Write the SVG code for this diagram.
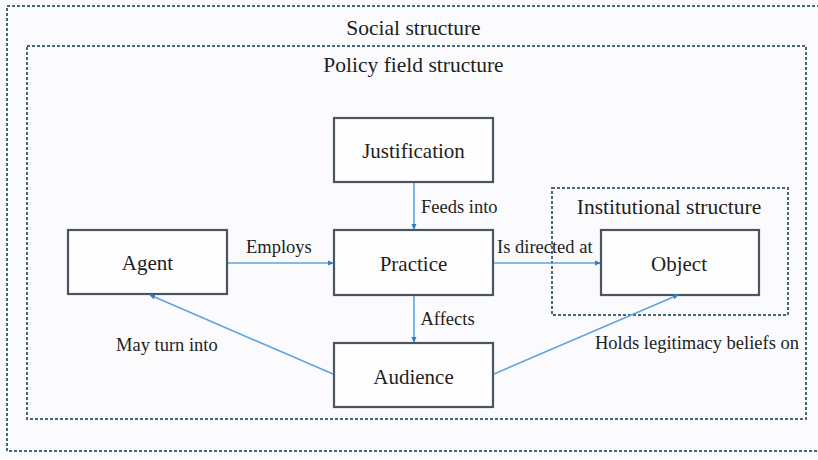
<svg xmlns="http://www.w3.org/2000/svg" width="818" height="460" viewBox="0 0 818 460">
  <defs>
    <marker id="arrow" markerWidth="6" markerHeight="6" refX="5" refY="3" orient="auto" markerUnits="userSpaceOnUse">
      <path d="M0,0.5 L6,3 L0,5.5 Z" fill="#2f7fc8"/>
    </marker>
    <style>
      .frame { fill: none; stroke: #46687a; stroke-width: 2; stroke-dasharray: 3 2; }
      .box rect { fill: #fefefe; stroke: #4b555d; stroke-width: 2.2; }
      text { fill: #1e1e1e; font-family: "Liberation Serif", "Times New Roman", serif; }
      .box text { font-size: 21px; text-anchor: middle; }
      .lbl { font-size: 18.5px; }
      .title { font-size: 21.5px; text-anchor: middle; }
      .edge { stroke: #5fa3dd; stroke-width: 1.6; fill: none; marker-end: url(#arrow); }
    </style>
  </defs>

  <rect x="0" y="0" width="818" height="460" fill="#fbfbfd"/>

  <!-- nested structure frames -->
  <g id="social-structure">
    <rect class="frame" x="7" y="6" width="830" height="445"/>
    <text class="title" x="413.5" y="35">Social structure</text>
  </g>
  <g id="policy-field-structure">
    <rect class="frame" x="27" y="46" width="779" height="373"/>
    <text class="title" x="413.5" y="72">Policy field structure</text>
  </g>
  <g id="institutional-structure">
    <rect class="frame" x="552" y="188" width="236" height="127"/>
    <text class="title" x="669" y="214">Institutional structure</text>
  </g>

  <!-- nodes -->
  <g id="justification" class="box">
    <rect x="334" y="118" width="159" height="64"/>
    <text x="413.5" y="158">Justification</text>
  </g>
  <g id="agent" class="box">
    <rect x="68" y="230" width="159" height="64"/>
    <text x="147.5" y="270">Agent</text>
  </g>
  <g id="practice" class="box">
    <rect x="334" y="230" width="159" height="65"/>
    <text x="413.5" y="271">Practice</text>
  </g>
  <g id="object" class="box">
    <rect x="601" y="230" width="158" height="65"/>
    <text x="679" y="271">Object</text>
  </g>
  <g id="audience" class="box">
    <rect x="334" y="343" width="159" height="64"/>
    <text x="413.5" y="384">Audience</text>
  </g>

  <!-- connectors -->
  <g id="connectors">
    <line class="edge" x1="414" y1="183" x2="414" y2="229"/>
    <line class="edge" x1="228" y1="263" x2="333" y2="263"/>
    <line class="edge" x1="494" y1="263" x2="600" y2="263"/>
    <line class="edge" x1="414" y1="296" x2="414" y2="342"/>
    <line class="edge" x1="333" y1="374" x2="150" y2="295"/>
    <line class="edge" x1="494" y1="374" x2="678" y2="295"/>
    <text class="lbl" x="421" y="213">Feeds into</text>
    <text class="lbl" x="246" y="253">Employs</text>
    <text class="lbl" x="497" y="253">Is directed at</text>
    <text class="lbl" x="420.5" y="325">Affects</text>
    <text class="lbl" x="116" y="351">May turn into</text>
    <text class="lbl" x="595" y="349">Holds legitimacy beliefs on</text>
  </g>
</svg>
